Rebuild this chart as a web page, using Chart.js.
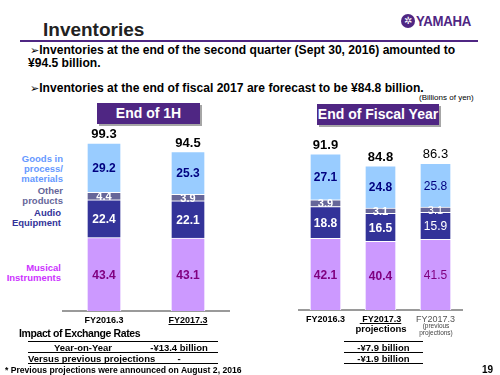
<!DOCTYPE html>
<html>
<head>
<meta charset="utf-8">
<script src="https://cdn.jsdelivr.net/npm/chart.js@4.4.1/dist/chart.umd.min.js"></script>
<style>
  body { margin: 0; width: 500px; height: 375px; background: #fff; position: relative; overflow: hidden;
         font-family: Arial, "Liberation Sans", sans-serif; color: #000; }
  .abs { position: absolute; white-space: nowrap; }
  .b { font-weight: bold; }
  .box { background: #4f2683; color: #fff; font-weight: bold; font-size: 14px; text-align: center;
         line-height: 21px; box-shadow: 2px 2px 0 #a6a6a6; }
  .cat { font-weight: bold; font-size: 9.5px; line-height: 10px; text-align: right; width: 80px; }
  .rule { position: absolute; height: 0; border-top: 1.5px solid #000; }
  .cell { font-weight: bold; font-size: 9.5px; text-align: center; }
  .arrow { font-family: "DejaVu Sans", sans-serif; font-size: 11px; font-weight: normal; }
  canvas { position: absolute; }
</style>
</head>
<body>
<div class="abs b" style="left:43px; top:19px; font-size:19px; color:#222;">Inventories</div>
<div class="abs" style="left:401px; top:14px; width:14px; height:14px; border-radius:50%; background:#4f2683; color:#fff; font-size:10px; line-height:14px; text-align:center;">✲</div>
<div class="abs b" style="left:416px; top:12px; font-size:15px; color:#4f2683; letter-spacing:-0.3px; transform:scaleX(0.88); transform-origin:left;">YAMAHA</div>
<div class="abs" style="left:20px; top:40px; width:458px; height:2px; background:#4f2683;"></div>

<div class="abs b" style="left:30px; top:43px; font-size:12.1px;"><span class="arrow">➢</span>Inventories at the end of the second quarter (Sept 30, 2016) amounted to</div>
<div class="abs b" style="left:28px; top:56px; font-size:12.1px;">¥94.5 billion.</div>
<div class="abs b" style="left:30px; top:81px; font-size:12.1px;"><span class="arrow">➢</span>Inventories at the end of fiscal 2017 are forecast to be ¥84.8 billion.</div>
<div class="abs" style="left:419px; top:93px; font-size:8px;">(Billions of yen)</div>

<div class="abs box" style="left:97px; top:103px; width:103px; height:21px;">End of 1H</div>
<div class="abs box" style="left:317px; top:104px; width:122px; height:21px;">End of Fiscal Year</div>

<div class="abs cat" style="left:-17px; top:154px; color:#6699ff;">Goods in<br>process/<br>materials</div>
<div class="abs cat" style="left:-17px; top:186px; color:#666699;">Other<br>products</div>
<div class="abs cat" style="left:-19px; top:208px; color:#333399;">Audio<br>Equipment</div>
<div class="abs cat" style="left:-19px; top:263px; color:#cc33ff;">Musical<br>Instruments</div>

<canvas id="left" width="168" height="231" style="left:62px; top:100px;"></canvas>
<canvas id="right" width="165" height="230" style="left:298px; top:100px;"></canvas>

<div class="abs b" style="left:351px; top:323px; width:60px; text-align:center; font-size:9.5px;">projections</div>
<div class="abs" style="left:411px; top:322px; width:50px; text-align:center; font-size:6.5px; line-height:7px; color:#444;">(previous<br>projections)</div>

<div class="abs b" style="left:19px; top:327px; font-size:10.5px; letter-spacing:-0.4px;">Impact of Exchange Rates</div>
<div class="rule" style="left:28px; top:341px; width:190px;"></div>
<div class="abs cell" style="left:28px; top:342px; width:110px;">Year-on-Year</div>
<div class="abs cell" style="left:140px; top:342px; width:78px;">-¥13.4 billion</div>
<div class="rule" style="left:28px; top:352px; width:190px;"></div>
<div class="abs cell" style="left:28px; top:353px; width:110px;">Versus previous projections</div>
<div class="abs cell" style="left:140px; top:353px; width:78px;">-</div>
<div class="rule" style="left:28px; top:363px; width:190px;"></div>

<div class="rule" style="left:344px; top:341px; width:79px;"></div>
<div class="abs cell" style="left:344px; top:342px; width:79px;">-¥7.9 billion</div>
<div class="rule" style="left:344px; top:352px; width:79px;"></div>
<div class="abs cell" style="left:344px; top:353px; width:79px;">-¥1.9 billion</div>
<div class="rule" style="left:344px; top:363px; width:79px;"></div>

<div class="abs b" style="left:5px; top:365px; font-size:8.6px;">* Previous projections were announced on August 2, 2016</div>
<div class="abs b" style="left:482px; top:364px; font-size:10px;">19</div>

<script>
'use strict';

// left chart: end of 1H
const leftLabels = ['FY2016.3', 'FY2017.3'];
const leftMusical = [43.4, 43.1];
const leftAudio = [22.4, 22.1];
const leftOther = [4.4, 3.9];
const leftGoods = [29.2, 25.3];
const leftTotals = [99.3, 94.5];

// right chart: end of fiscal year
const rightLabels = ['FY2016.3', ' FY2017.3', 'FY2017.3'];
const rightMusical = [42.1, 40.4, 41.5];
const rightAudio = [18.8, 16.5, 15.9];
const rightOther = [3.9, 3.1, 3.1];
const rightGoods = [27.1, 24.8, 25.8];
const rightTotals = [91.9, 84.8, 86.3];

const FONT = 'Arial, "Liberation Sans", sans-serif';
const segColors = ['#cc99ff', '#333399', '#666699', '#99ccff'];
const valueColors = ['#800080', '#ffffff', '#ffffff', '#000080'];

// draws values inside the segments and the totals above each bar
const labelPlugin = {
  id: 'labels',
  afterDatasetsDraw(chart, args, opts) {
    const c = chart.ctx;
    c.save();
    c.textAlign = 'center';
    chart.data.datasets.forEach((ds, di) => {
      const meta = chart.getDatasetMeta(di);
      meta.data.forEach((bar, i) => {
        const bold = opts.plain !== i;
        const size = di === 2 ? 11 : 12;
        c.font = (bold ? 'bold ' : '') + size + 'px ' + FONT;
        c.fillStyle = valueColors[di];
        c.textBaseline = 'middle';
        c.fillText(ds.data[i].toFixed(1), bar.x, (bar.y + bar.base) / 2 + 1);
      });
    });
    const top = chart.getDatasetMeta(chart.data.datasets.length - 1);
    opts.totals.forEach((t, i) => {
      const bar = top.data[i];
      c.font = (opts.plain !== i ? 'bold ' : '') + '13px ' + FONT;
      c.fillStyle = '#000';
      c.textBaseline = 'bottom';
      c.fillText(t.toFixed(1), bar.x, bar.y - 2);
    });
    // underline for the current-year tick
    const xs = chart.scales.x;
    c.strokeStyle = '#000';
    c.lineWidth = 1;
    opts.underline.forEach(i => {
      const x = xs.getPixelForTick(i);
      c.font = 'bold 9px ' + FONT;
      const w = c.measureText(chart.data.labels[i]).width;
      c.beginPath();
      c.moveTo(x - w / 2, xs.top + 13.5);
      c.lineTo(x + w / 2, xs.top + 13.5);
      c.stroke();
    });
    c.restore();
  }
};

function makeChart(id, labels, musical, audio, other, goods, totals, barW, padTop, plain, underline) {
  const names = ['Musical Instruments', 'Audio Equipment', 'Other products', 'Goods in process/materials'];
  const series = [musical, audio, other, goods];
  new Chart(document.getElementById(id), {
    type: 'bar',
    data: {
      labels: labels,
      datasets: series.map((s, k) => ({
        label: names[k],
        data: s,
        backgroundColor: segColors[k],
        borderColor: '#ffffff',
        borderWidth: 1,
        barThickness: barW
      }))
    },
    options: {
      responsive: false,
      animation: false,
      layout: { padding: { top: padTop, left: 0, right: 0, bottom: 0 } },
      plugins: {
        legend: { display: false },
        tooltip: { enabled: false },
        labels: { totals: totals, plain: plain, underline: underline }
      },
      scales: {
        x: {
          stacked: true,
          grid: { display: false, drawTicks: false },
          border: { display: true, color: '#9a9a9a', width: 2 },
          ticks: {
            padding: 4,
            font: ctx => ({ family: FONT, size: 9, weight: ctx.index === plain ? 'normal' : 'bold' }),
            color: ctx => ctx.index === plain ? '#555' : '#000'
          },
          afterFit: s => { s.height = 20; }
        },
        y: { stacked: true, display: false, min: 0, max: 100 }
      }
    },
    plugins: [labelPlugin]
  });
}

makeChart('left', leftLabels, leftMusical, leftAudio, leftOther, leftGoods, leftTotals, 34, 42, -1, [1]);
makeChart('right', rightLabels, rightMusical, rightAudio, rightOther, rightGoods, rightTotals, 31, 40, 2, [1]);
</script>
</body>
</html>
